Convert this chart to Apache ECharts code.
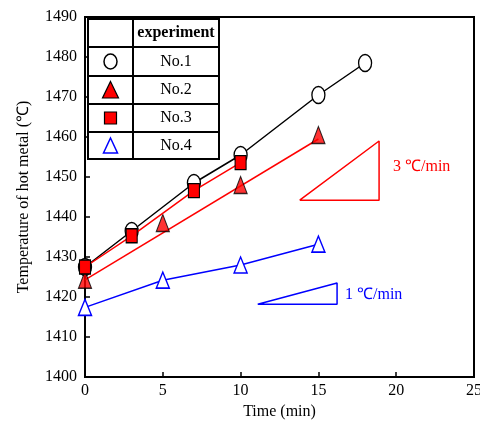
<!DOCTYPE html>
<html><head><meta charset="utf-8">
<script src="https://cdn.jsdelivr.net/npm/echarts@6/dist/echarts.min.js"></script>
<style>html,body{margin:0;padding:0;background:#fff}#c{width:480px;height:423px}</style>
</head><body><div id="c"></div>
<script>
// Data
const no1 = [[0,1427.5],[3,1436.5],[7,1448.5],[10,1455.5],[15,1470.5],[18,1478.5]];
const no2 = [[0,1424.3],[5,1438.5],[10,1448],[15,1460.5]];
const no2Fit = [[0,1424.3],[15,1459.5]];
const no3 = [[0,1427.5],[3,1435.3],[7,1446.6],[10,1453.6]];
const no4 = [[0,1417.4],[5,1424.2],[10,1428],[15,1433.2]];
const slope3 = [[13.8,1444.2],[18.9,1444.2],[18.9,1459],[13.8,1444.2]];
const slope1 = [[11.1,1418.2],[16.2,1418.2],[16.2,1423.5],[11.1,1418.2]];
const xTicks = [0,5,10,15,20,25];
const yMin = 1400, yMax = 1490;
const legendNames = ['experiment','No.1','No.2','No.3','No.4'];

const F = 'Liberation Serif, Times New Roman, serif';
const chart = echarts.init(document.getElementById('c'));
const tl = {fontFamily:F, fontSize:16, color:'#000'};
chart.setOption({
  animation:false,
  grid:{left:85,right:6,top:17,bottom:46,outerBoundsMode:'none',containLabel:false,show:true,borderColor:'#000',borderWidth:2,backgroundColor:'transparent'},
  xAxis:{type:'value',min:0,max:25,interval:5,
    name:'Time (min)',nameLocation:'middle',nameGap:26,nameTextStyle:tl,
    axisLine:{lineStyle:{color:'#000',width:2}},
    axisTick:{inside:true,length:5,lineStyle:{color:'#000',width:1.5}},
    axisLabel:Object.assign({margin:6,formatter:v=>String(v)},tl),
    splitLine:{show:false}},
  yAxis:{type:'value',min:yMin,max:yMax,interval:10,
    name:'Temperature of hot metal (℃)',nameLocation:'middle',nameGap:53,nameTextStyle:tl,
    axisLine:{lineStyle:{color:'#000',width:2}},
    axisTick:{inside:true,length:5,lineStyle:{color:'#000',width:1.5}},
    axisLabel:Object.assign({margin:8,formatter:v=>String(v)},tl),
    splitLine:{show:false}},
  series:[
    {type:'line',data:slope3,symbol:'none',lineStyle:{color:'#ff0000',width:1.5},z:1},
    {type:'line',data:slope1,symbol:'none',lineStyle:{color:'#0000ff',width:1.5},z:1},
    {type:'line',data:no1,symbol:'circle',symbolSize:[13,17],showAllSymbol:true,
      lineStyle:{color:'#000',width:1.5},itemStyle:{color:'#fff',borderColor:'#000',borderWidth:1.5},z:2},
    {type:'line',data:no2Fit,symbol:'none',lineStyle:{color:'#ff0000',width:1.5},z:3},
    {type:'scatter',data:no2,symbol:'triangle',symbolSize:[13,17],
      itemStyle:{color:'#ff0000',borderColor:'#000',borderWidth:1.2},z:4},
    {type:'line',data:no3,symbol:'rect',symbolSize:[11,14],showAllSymbol:true,
      lineStyle:{color:'#ff0000',width:1.5},itemStyle:{color:'#ff0000',borderColor:'#000',borderWidth:1.2},z:5},
    {type:'line',data:no4,symbol:'triangle',symbolSize:[13,16],showAllSymbol:true,
      lineStyle:{color:'#0000ff',width:1.5},itemStyle:{color:'#fff',borderColor:'#0000ff',borderWidth:1.5},z:6}
  ]
});

// Legend table
const tx0=88, tx1=133, tx2=219, rows=[19,47,76,104,132,159];
const g=[];
g.push({type:'rect',shape:{x:tx0,y:rows[0],width:tx2-tx0,height:rows[5]-rows[0]},style:{fill:'#fff',stroke:'#000',lineWidth:2},z:100});
for(let i=1;i<5;i++) g.push({type:'line',shape:{x1:tx0,y1:rows[i],x2:tx2,y2:rows[i]},style:{stroke:'#000',lineWidth:2},z:101});
g.push({type:'line',shape:{x1:tx1,y1:rows[0],x2:tx1,y2:rows[5]},style:{stroke:'#000',lineWidth:2},z:101});
legendNames.forEach((n,i)=>{
  g.push({type:'text',x:(tx1+tx2)/2,y:(rows[i]+rows[i+1])/2,z:102,
    style:{text:n,fontFamily:F,fontSize:16,fontWeight:i===0?'bold':'normal',fill:'#000',align:'center',verticalAlign:'middle'}});
});
const cx=(tx0+tx1)/2;
const mid=i=>(rows[i]+rows[i+1])/2;
g.push({type:'ellipse',shape:{cx:cx,cy:mid(1),rx:6.5,ry:7.5},style:{fill:'#fff',stroke:'#000',lineWidth:1.5},z:102});
g.push({type:'polygon',shape:{points:[[cx,mid(2)-8.5],[cx+8,mid(2)+8],[cx-8,mid(2)+8]]},style:{fill:'#ff0000',stroke:'#000',lineWidth:1.2},z:102});
g.push({type:'rect',shape:{x:cx-6,y:mid(3)-6,width:12,height:12},style:{fill:'#ff0000',stroke:'#000',lineWidth:1.2},z:102});
g.push({type:'polygon',shape:{points:[[cx,mid(4)-7.5],[cx+7,mid(4)+7.5],[cx-7,mid(4)+7.5]]},style:{fill:'#fff',stroke:'#0000ff',lineWidth:1.5},z:102});
g.push({type:'text',x:393,y:167,z:102,style:{text:'3 ℃/min',fontFamily:F,fontSize:16,fill:'#ff0000',align:'left',verticalAlign:'middle'}});
g.push({type:'text',x:345,y:295,z:102,style:{text:'1 ℃/min',fontFamily:F,fontSize:16,fill:'#0000ff',align:'left',verticalAlign:'middle'}});
chart.setOption({graphic:g});
</script></body></html>
